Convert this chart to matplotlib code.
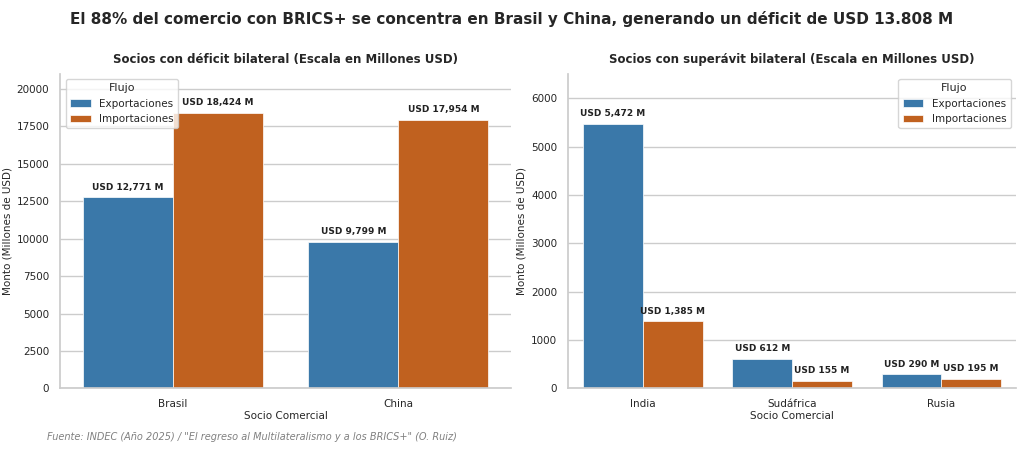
import matplotlib
matplotlib.use("Agg")
import matplotlib.pyplot as plt
import numpy as np
import seaborn as sns

sns.set_theme(style="whitegrid")
plt.rcParams['font.family'] = ['DejaVu Sans']

left_partners = ["Brasil", "China"]
left_exp = [12771, 9799]
left_imp = [18424, 17954]
right_partners = ["India", "Sudáfrica", "Rusia"]
right_exp = [5472, 612, 290]
right_imp = [1385, 155, 195]

c_exp = "#3a78a9"
c_imp = "#c0611f"

fig = plt.figure(figsize=(10.24, 4.49), dpi=100)
ax1 = fig.add_axes([0.059, 0.135, 0.44, 0.70])
ax2 = fig.add_axes([0.555, 0.135, 0.437, 0.70])

def draw(ax, cats, exp, imp, ylim, yticks, title):
    x = np.arange(len(cats))
    w = 0.4
    b1 = ax.bar(x - w/2, exp, w, color=c_exp, label="Exportaciones", edgecolor="white", linewidth=0.5)
    b2 = ax.bar(x + w/2, imp, w, color=c_imp, label="Importaciones", edgecolor="white", linewidth=0.5)
    for bars in (b1, b2):
        ax.bar_label(bars, labels=[f"USD {v:,.0f} M" for v in bars.datavalues],
                     padding=4, fontsize=6.5, fontweight="bold", color="#222222")
    ax.set_xticks(x, cats, fontsize=7.5)
    ax.set_ylim(*ylim)
    ax.set_yticks(yticks)
    ax.tick_params(axis="y", labelsize=7.5, pad=2)
    ax.tick_params(axis="x", pad=2)
    ax.set_xlabel("Socio Comercial", fontsize=7.5, labelpad=1)
    ax.set_ylabel("Monto (Millones de USD)", fontsize=7.5, labelpad=3)
    ax.set_title(title, fontsize=8.5, fontweight="bold", pad=8)
    ax.grid(axis="x", visible=False)
    for s in ("top", "right"):
        ax.spines[s].set_visible(False)
    ax.set_xlim(-0.5, len(cats) - 0.5)

draw(ax1, left_partners, left_exp, left_imp, (0, 21000), range(0, 20001, 2500),
     "Socios con déficit bilateral (Escala en Millones USD)")
draw(ax2, right_partners, right_exp, right_imp, (0, 6500), range(0, 6001, 1000),
     "Socios con superávit bilateral (Escala en Millones USD)")
ax1.legend(title="Flujo", loc="upper left", fontsize=7.5, title_fontsize=8)
ax2.legend(title="Flujo", loc="upper right", fontsize=7.5, title_fontsize=8)

fig.suptitle("El 88% del comercio con BRICS+ se concentra en Brasil y China, generando un déficit de USD 13.808 M",
             fontsize=11, fontweight="bold", y=0.975)
fig.text(0.046, 0.02, 'Fuente: INDEC (Año 2025) / "El regreso al Multilateralismo y a los BRICS+" (O. Ruiz)',
         fontsize=7, style="italic", color="gray")
fig.savefig("out.png", dpi=100)
